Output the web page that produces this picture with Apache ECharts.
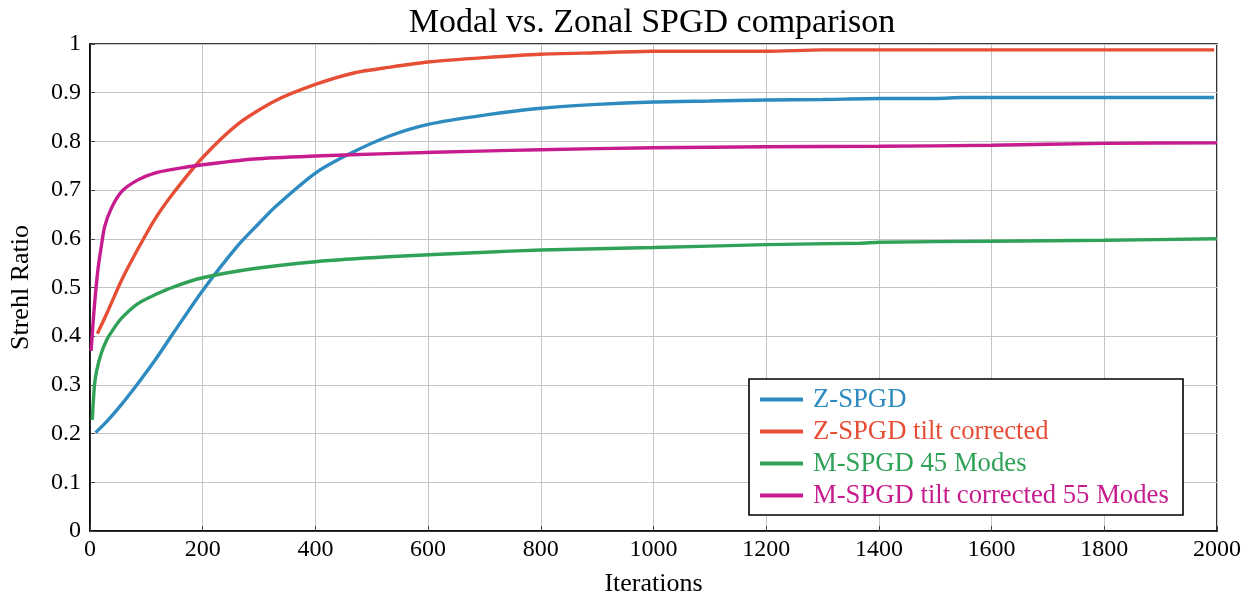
<!DOCTYPE html>
<html>
<head>
<meta charset="utf-8">
<script src="https://cdn.jsdelivr.net/npm/echarts@6/dist/echarts.min.js"></script>
<style>
html,body{margin:0;padding:0;background:#fff;}
#chart{width:1253px;height:597px;}
</style>
</head>
<body>
<div id="chart"></div>
<script>
var seriesNames = ['Z-SPGD', 'Z-SPGD tilt corrected', 'M-SPGD 45 Modes', 'M-SPGD tilt corrected 55 Modes'];
var seriesColors = ['#2E8BC0', '#E64E36', '#30A257', '#C71C8D'];

var zSpgd = [[10,0.202],[30,0.225],[56,0.26],[85,0.303],[115,0.35],[150,0.41],[200,0.494],[263,0.587],[300,0.632],[328,0.665],[400,0.735],[458,0.773],[529,0.81],[600,0.835],[700,0.854],[800,0.868],[900,0.876],[1000,0.881],[1100,0.883],[1200,0.885],[1300,0.886],[1400,0.888],[1500,0.888],[1550,0.89],[1700,0.89],[1850,0.89],[1995,0.89]];
var zSpgdTilt = [[13,0.405],[30,0.447],[56,0.515],[85,0.579],[115,0.64],[150,0.697],[200,0.767],[263,0.836],[328,0.883],[400,0.917],[470,0.941],[530,0.952],[600,0.963],[700,0.972],[800,0.979],[900,0.982],[1000,0.985],[1200,0.985],[1300,0.988],[1995,0.988]];
var mSpgd45 = [[4,0.228],[8,0.30],[12,0.33],[20,0.365],[30,0.393],[40,0.412],[56,0.437],[85,0.467],[115,0.485],[150,0.502],[200,0.52],[292,0.539],[400,0.553],[529,0.563],[692,0.572],[800,0.577],[1000,0.582],[1200,0.588],[1367,0.591],[1400,0.593],[1600,0.595],[1800,0.597],[2000,0.6]];
var mSpgd55Tilt = [[2,0.37],[5,0.42],[8,0.465],[14,0.536],[20,0.584],[26,0.625],[38,0.663],[56,0.697],[85,0.721],[115,0.735],[144,0.742],[200,0.752],[292,0.764],[400,0.77],[529,0.775],[692,0.78],[800,0.783],[1000,0.787],[1200,0.789],[1400,0.79],[1600,0.792],[1800,0.796],[2000,0.797]];

var xTickLabels = ['0','200','400','600','800','1000','1200','1400','1600','1800','2000'];
var yTickLabels = ['0','0.1','0.2','0.3','0.4','0.5','0.6','0.7','0.8','0.9','1'];

var allData = [zSpgd, zSpgdTilt, mSpgd45, mSpgd55Tilt];
var FONT = '"Liberation Serif", "Times New Roman", serif';

var chart = echarts.init(document.getElementById('chart'));
chart.setOption({
  animation: false,
  backgroundColor: '#fff',
  title: {
    text: 'Modal vs. Zonal SPGD comparison',
    left: 647, top: 1, textAlign: 'center',
    textStyle: {fontFamily: FONT, fontSize: 34, fontWeight: 'normal', color: '#000'}
  },
  grid: {
    left: 90, right: 36, top: 44, bottom: 66,
    outerBoundsMode: 'none', containLabel: false,
    show: true, borderColor: '#000', borderWidth: 1.6, backgroundColor: 'transparent'
  },
  graphic: [{
    type: 'rect', z: 5,
    shape: {x: 749, y: 379, width: 434, height: 136},
    style: {fill: '#fff', stroke: '#000', lineWidth: 1.6}
  }],
  legend: {
    orient: 'vertical', left: 760, top: 386, z: 10, padding: 0,
    itemWidth: 43, itemHeight: 4, itemGap: 5, icon: 'rect',
    textStyle: {fontFamily: FONT, fontSize: 26.7, lineHeight: 26, padding: [0,0,0,5]},
    data: seriesNames.map(function(n, i){ return {name: n, textStyle: {color: seriesColors[i]}}; })
  },
  xAxis: {
    type: 'value', min: 0, max: 2000, interval: 200,
    name: 'Iterations', nameLocation: 'middle', nameGap: 40,
    nameTextStyle: {fontFamily: FONT, fontSize: 26, color: '#000'},
    axisLine: {show: true, lineStyle: {color: '#000', width: 1.6}},
    axisTick: {show: true, inside: true, length: 5, lineStyle: {color: '#444'}},
    axisLabel: {fontFamily: FONT, fontSize: 24, color: '#000', margin: 7,
      formatter: function(v){ return xTickLabels[Math.round(v/200)]; }},
    splitLine: {show: true, lineStyle: {color: '#c4c4c4', width: 1}}
  },
  yAxis: {
    type: 'value', min: 0, max: 1, interval: 0.1,
    name: 'Strehl Ratio', nameLocation: 'middle', nameGap: 56,
    nameTextStyle: {fontFamily: FONT, fontSize: 26, color: '#000'},
    axisLine: {show: true, lineStyle: {color: '#000', width: 1.6}},
    axisTick: {show: true, inside: true, length: 5, lineStyle: {color: '#444'}},
    axisLabel: {fontFamily: FONT, fontSize: 24, color: '#000', margin: 9,
      formatter: function(v){ return yTickLabels[Math.round(v*10)]; }},
    splitLine: {show: true, lineStyle: {color: '#c4c4c4', width: 1}}
  },
  series: allData.map(function(d, i){
    return {
      name: seriesNames[i], type: 'line', data: d,
      smooth: 0.25, showSymbol: false, symbol: 'none',
      lineStyle: {color: seriesColors[i], width: 3.4},
      itemStyle: {color: seriesColors[i]}
    };
  })
});
</script>
</body>
</html>
